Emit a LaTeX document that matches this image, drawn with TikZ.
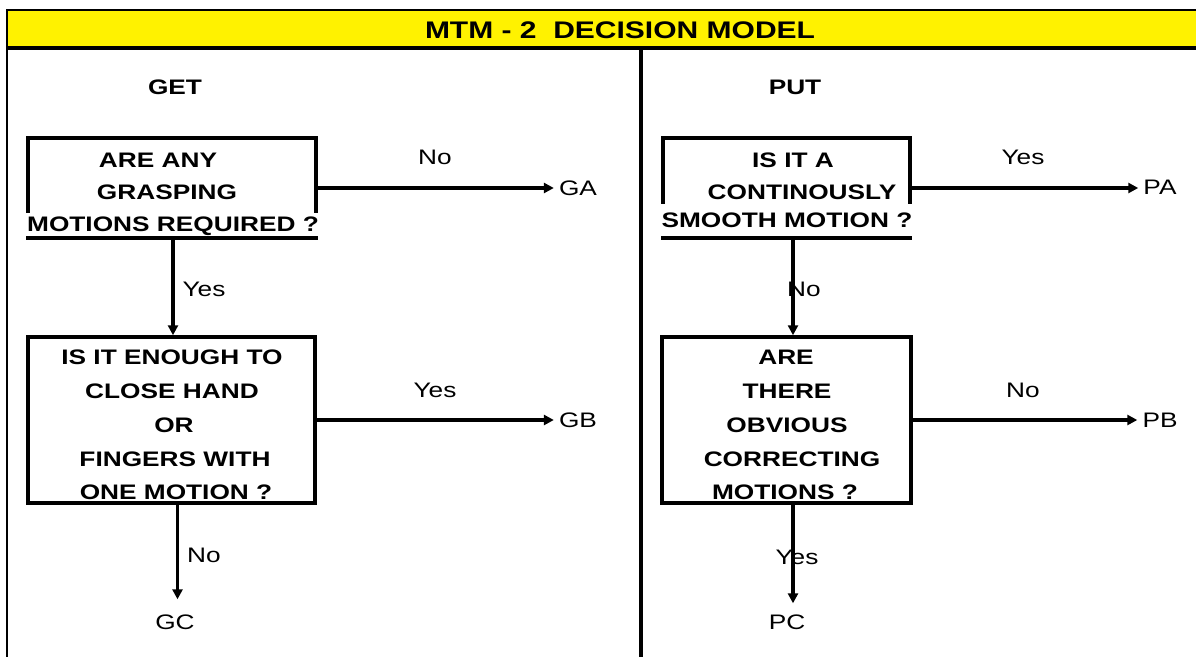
\documentclass[tikz,border=0pt]{standalone}
\usepackage{fontspec}
\setmainfont[FakeStretch=1.25]{Liberation Sans}
\usetikzlibrary{arrows.meta}
\tikzset{
  boxshape/.style={draw=black, line width=3.5pt, inner sep=0pt},
  boxtext/.style={font=\fontsize{21}{21}\selectfont\bfseries, text height=15pt, text depth=0pt, inner sep=0pt},
  lasttext/.style={boxtext, fill=white, inner xsep=2pt},
  lbl/.style={font=\fontsize{21}{21}\selectfont, text height=15pt, text depth=0pt, inner sep=3pt},
  conn/.style={line width=3.2pt, -{Triangle[length=10pt,width=10pt]}},
  frame/.style={line width=2.5pt}
}
\begin{document}
\begin{tikzpicture}[x=1pt,y=-1pt]
\useasboundingbox (0,0) rectangle (1196,656);
% title bar
\fill[yellow] (7,10) rectangle (1205,48);
\draw[line width=2.5pt] (6,10) -- (1205,10);
\draw[line width=4pt] (6,48) -- (1205,48);
\draw[frame] (7,9) -- (7,665);
\draw[line width=3.5pt] (641,48) -- (641,665);
\node[font=\fontsize{24}{24}\selectfont\bfseries, text height=17pt, text depth=0pt, inner sep=0pt] (title) at (620,30) {MTM - 2\ \ DECISION MODEL};
% headings
\node[boxtext] (get) at (175,87) {GET};
\node[boxtext] (put) at (795,87) {PUT};
% boxes
\node[boxshape, minimum width=288pt, minimum height=100pt] (b1) at (172,188) {};
\node[boxshape, minimum width=287pt, minimum height=166pt] (b2) at (171.5,420) {};
\node[boxshape, minimum width=247pt, minimum height=100pt] (b3) at (786.5,188) {};
\node[boxshape, minimum width=249pt, minimum height=166pt] (b4) at (786.5,420) {};
% box 1 text
\node[boxtext] (b1l1) at (158,160) {ARE ANY};
\node[boxtext] (b1l2) at (167,192) {GRASPING};
\node[lasttext, inner ysep=4pt] (b1l3) at (173,224) {MOTIONS REQUIRED ?};
% box 2 text
\node[boxtext] (b2l1) at (172,357) {IS IT ENOUGH TO};
\node[boxtext] (b2l2) at (172,391) {CLOSE HAND};
\node[boxtext] (b2l3) at (174,425) {OR};
\node[boxtext] (b2l4) at (175,459) {FINGERS WITH};
\node[boxtext] (b2l5) at (176,492) {ONE MOTION ?};
% box 3 text
\node[boxtext] (b3l1) at (793,160) {IS IT A};
\node[boxtext] (b3l2) at (802,192) {CONTINOUSLY};
\node[lasttext, minimum height=32pt] (b3l3) at (787,220) {SMOOTH MOTION ?};
% box 4 text
\node[boxtext] (b4l1) at (786,357) {ARE};
\node[boxtext] (b4l2) at (787,391) {THERE};
\node[boxtext] (b4l3) at (787,425) {OBVIOUS};
\node[boxtext] (b4l4) at (792,459) {CORRECTING};
\node[boxtext] (b4l5) at (785,492) {MOTIONS ?};
% outcomes
\node[lbl] (ga) at (578,188) {GA};
\node[lbl] (gb) at (578,420) {GB};
\node[lbl] (gc) at (175,622) {GC};
\node[lbl] (pa) at (1160,187) {PA};
\node[lbl] (pb) at (1160,420) {PB};
\node[lbl] (pc) at (787,622) {PC};
% connectors
\draw[conn, shorten >=2pt] (b1.east) -- (b1.east -| ga.west);
\draw[conn, shorten >=2pt] (b2.east) -- (b2.east -| gb.west);
\draw[conn, shorten >=2pt] (b3.east) -- (b3.east -| pa.west);
\draw[conn, shorten >=2pt] (b4.east) -- (b4.east -| pb.west);
\draw[conn] ([xshift=1pt]b1.south) -- ([xshift=1pt]b1.south |- b2.north);
\draw[conn] ([xshift=6.5pt]b3.south) -- ([xshift=6.5pt]b3.south |- b4.north);
\draw[conn, shorten >=12pt] ([xshift=6pt]b2.south) -- ([xshift=6pt]b2.south |- gc.north);
\draw[conn, shorten >=8pt] ([xshift=6.5pt]b4.south) -- ([xshift=6.5pt]b4.south |- pc.north);
% connector labels
\node[lbl] (l1) at (435,157) {No};
\node[lbl] (l2) at (204,289) {Yes};
\node[lbl] (l3) at (435,390) {Yes};
\node[lbl] (l4) at (204,555) {No};
\node[lbl] (l5) at (1023,157) {Yes};
\node[lbl, inner sep=0pt] (l6) at (804,289) {No};
\node[lbl] (l7) at (1023,390) {No};
\node[lbl, inner sep=0pt] (l8) at (797,557) {Yes};
\end{tikzpicture}
\end{document}
